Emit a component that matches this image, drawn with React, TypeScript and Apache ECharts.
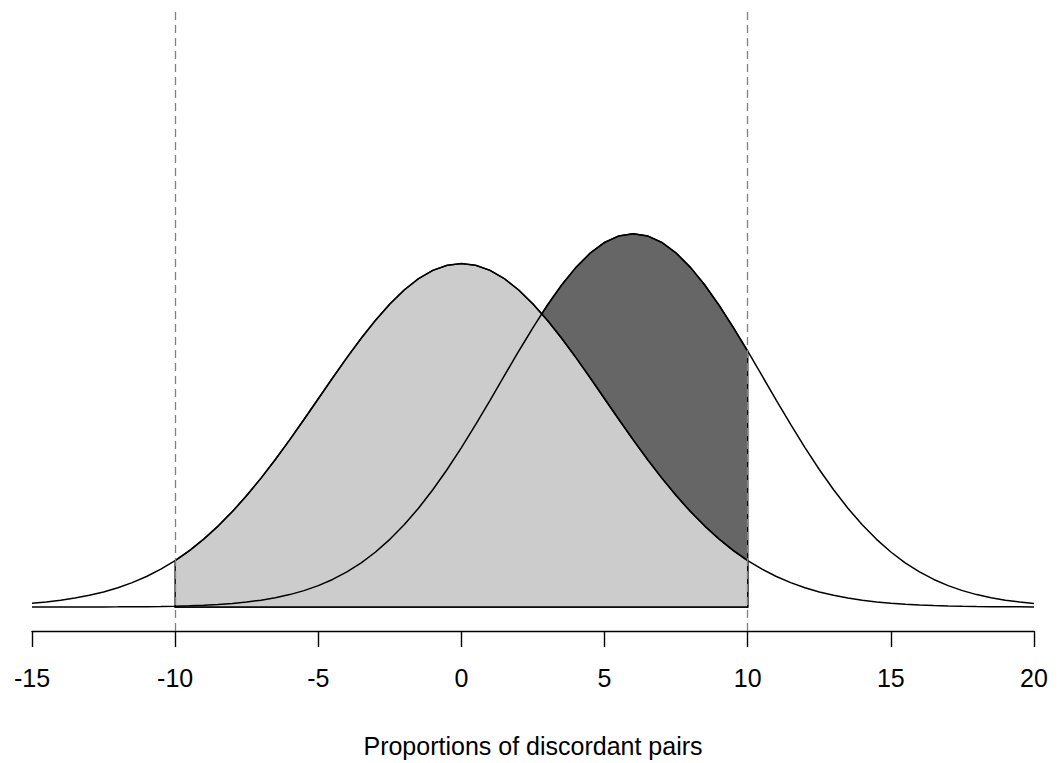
import React, { useEffect, useRef } from "react";
import * as echarts from "echarts";

// x positions (proportion of discordant pairs), step 0.5 from -15 to 20
const xValues: number[] = [
  -15, -14.5, -14, -13.5, -13, -12.5, -12, -11.5, -11, -10.5,
  -10, -9.5, -9, -8.5, -8, -7.5, -7, -6.5, -6, -5.5,
  -5, -4.5, -4, -3.5, -3, -2.5, -2, -1.5, -1, -0.5,
  0, 0.5, 1, 1.5, 2, 2.5, 3, 3.5, 4, 4.5,
  5, 5.5, 6, 6.5, 7, 7.5, 8, 8.5, 9, 9.5,
  10, 10.5, 11, 11.5, 12, 12.5, 13, 13.5, 14, 14.5,
  15, 15.5, 16, 16.5, 17, 17.5, 18, 18.5, 19, 19.5, 20,
];

// null curve heights (centred at 0)
const nullCurve: number[] = [
  0.00089, 0.00119, 0.00158, 0.00208, 0.00272, 0.00351, 0.00448, 0.00567, 0.00709, 0.0088,
  0.0108, 0.01312, 0.01579, 0.01881, 0.02218, 0.0259, 0.02995, 0.03427, 0.03884, 0.04357,
  0.04839, 0.05322, 0.05794, 0.06245, 0.06665, 0.07041, 0.07366, 0.07628, 0.07821, 0.07939,
  0.07979, 0.07939, 0.07821, 0.07628, 0.07366, 0.07041, 0.06665, 0.06245, 0.05794, 0.05322,
  0.04839, 0.04357, 0.03884, 0.03427, 0.02995, 0.0259, 0.02218, 0.01881, 0.01579, 0.01312,
  0.0108, 0.0088, 0.00709, 0.00567, 0.00448, 0.00351, 0.00272, 0.00208, 0.00158, 0.00119,
  0.00089, 0.00065, 0.00048, 0.00034, 0.00025, 0.00017, 0.00012, 0.00008, 0.00006, 0.00004, 0.00003,
];

// alternative curve heights (centred at 6)
const altCurve: number[] = [
  0.0, 0.0, 0.00001, 0.00001, 0.00002, 0.00003, 0.00004, 0.00006, 0.00009, 0.00014,
  0.0002, 0.0003, 0.00043, 0.0006, 0.00084, 0.00117, 0.0016, 0.00216, 0.00289, 0.00381,
  0.00497, 0.00641, 0.00817, 0.01028, 0.01279, 0.01573, 0.01912, 0.02296, 0.02725, 0.03196,
  0.03704, 0.04244, 0.04804, 0.05375, 0.05943, 0.06493, 0.07011, 0.07482, 0.07891, 0.08224,
  0.0847, 0.08622, 0.08673, 0.08622, 0.0847, 0.08224, 0.07891, 0.07482, 0.07011, 0.06493,
  0.05943, 0.05375, 0.04804, 0.04244, 0.03704, 0.03196, 0.02725, 0.02296, 0.01912, 0.01573,
  0.01279, 0.01028, 0.00817, 0.00641, 0.00497, 0.00381, 0.00289, 0.00216, 0.0016, 0.00117, 0.00084,
];

const criticalValues: number[] = [-10, 10];
const xTicks = { min: -15, max: 20, interval: 5 };
const axisTitle = "Proportions of discordant pairs";

const FONT = "'Liberation Sans', Arial, Helvetica, sans-serif";

export default function App() {
  const ref = useRef<HTMLDivElement>(null);

  useEffect(() => {
    if (!ref.current) return;
    const chart = echarts.init(ref.current, undefined, { renderer: "svg" });

    const lo = criticalValues[0];
    const hi = criticalValues[1];

    const nullPairs = xValues.map((x, i) => [x, nullCurve[i]]);
    const altPairs = xValues.map((x, i) => [x, altCurve[i]]);

    const regionPoints = (curve: number[][]) =>
      curve.filter((p) => p[0] >= lo && p[0] <= hi);

    const renderRegions = (params: any, api: any) => {
      const mk = (pts: number[][], fill: string) => {
        const poly = pts.map((p) => api.coord(p));
        poly.push(api.coord([hi, 0]));
        poly.push(api.coord([lo, 0]));
        return {
          type: "polygon",
          shape: { points: poly },
          style: { fill, stroke: "#000", lineWidth: 1.4 },
        };
      };
      return {
        type: "group",
        children: [
          mk(regionPoints(altPairs), "#666666"),
          mk(regionPoints(nullPairs), "#CCCCCC"),
        ],
      };
    };

    chart.setOption({
      animation: false,
      grid: { left: 32, right: 25, top: 10, bottom: 131, containLabel: false },
      xAxis: {
        type: "value",
        min: xTicks.min,
        max: xTicks.max,
        interval: xTicks.interval,
        axisLine: { show: true, onZero: false, lineStyle: { color: "#000", width: 1.4 } },
        axisTick: { show: true, length: 16, lineStyle: { color: "#000", width: 1.4 } },
        axisLabel: { color: "#000", fontSize: 25, fontFamily: FONT, margin: 34 },
        splitLine: { show: false },
        name: axisTitle,
        nameLocation: "middle",
        nameGap: 102,
        nameTextStyle: { color: "#000", fontSize: 25, fontFamily: FONT },
      },
      yAxis: {
        type: "value",
        min: -0.005567,
        max: 0.13871,
        show: false,
        splitLine: { show: false },
      },
      series: [
        {
          type: "custom",
          renderItem: renderRegions,
          data: [0],
          silent: true,
          z: 1,
        },
        {
          type: "line",
          data: nullPairs,
          showSymbol: false,
          symbol: "none",
          lineStyle: { color: "#000", width: 1.5 },
          silent: true,
          z: 3,
          markLine: {
            silent: true,
            symbol: "none",
            label: { show: false },
            lineStyle: { color: "#808080", width: 1.3, type: [8, 5] },
            data: criticalValues.map((v) => ({ xAxis: v })),
          },
        },
        {
          type: "line",
          data: altPairs,
          showSymbol: false,
          symbol: "none",
          lineStyle: { color: "#000", width: 1.5 },
          silent: true,
          z: 3,
        },
      ],
    });

    return () => chart.dispose();
  }, []);

  return (
    <div
      ref={ref}
      style={{ position: "fixed", left: 0, top: 0, width: 1059, height: 763, background: "#fff" }}
    />
  );
}
